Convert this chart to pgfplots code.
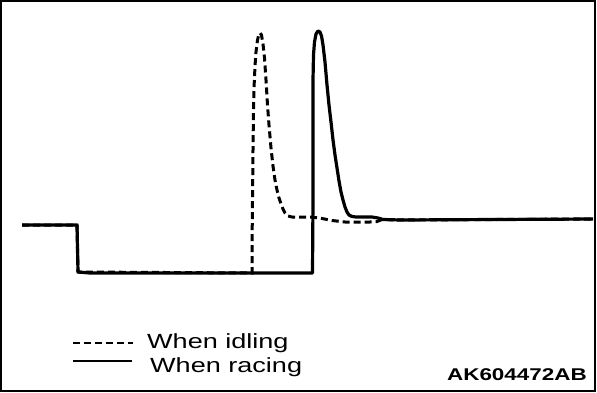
\documentclass[border=0pt]{standalone}
\usepackage{pgfplots}
\pgfplotsset{compat=1.18}
\usepackage{fontspec}
\setmainfont{Liberation Sans}
\newfontfamily\wide[FakeStretch=1.32]{Liberation Sans}
\begin{document}
\begin{tikzpicture}
\begin{axis}[
  scale only axis, width=597pt, height=393pt,
  xmin=0, xmax=597, ymin=0, ymax=393, y dir=reverse,
  hide axis, clip=false]
% When idling (dashed)
\addplot[black, line width=3pt, dash pattern=on 7pt off 4pt] coordinates {
(22,225)(77,225)(78,272)(252,273)(252,250)(253,150)(253.5,110)(254,88)(255,66)(256,52)(257.5,40)(259,34)(260,33)(261.5,35)(263,44)(264.5,58)(266,80)(267.5,105)(269,125)(271,148)(273,166)(275,180)(277,190)(279,198)(281,204)(283,209)(285,213)(288,216)(292,217)(312,217)(322,218.5)(332,220.5)(345,222)(370,222)(377,221.5)(382,219.5)(400,220)(593,219)};
% When racing (solid)
\addplot[black, line width=3.2pt, line join=round] coordinates {
(22,225)(77,225)(78,272)(90,273)(200,273)(312.5,273)(313,200)(313,80)(313.5,55)(314.5,42)(316,34)(318,31)(320,32)(321.5,36)(323,45)(325,62)(327,85)(329,105)(331,122)(333,140)(335,155)(337,168)(339,181)(341,192)(343,200)(345,207)(347,212)(349,215)(352,216.5)(356,217)(372,217)(378,218)(383,219.5)(400,220)(593,219)};
\draw[black, line width=2.2pt] (axis cs:1,1) rectangle (axis cs:595,391);
\draw[black, line width=2.6pt, dash pattern=on 7pt off 4pt] (axis cs:73,343) -- (axis cs:133,343);
\draw[black, line width=1.6pt] (axis cs:73,361) -- (axis cs:132,361);
\node[anchor=base west, inner sep=0pt, font=\wide\fontsize{20.5}{24}\selectfont] at (axis cs:147,348) {When idling};
\node[anchor=base west, inner sep=0pt, font=\wide\fontsize{20.5}{24}\selectfont] at (axis cs:150,372) {When racing};
\node[anchor=base east, inner sep=0pt, font=\wide\bfseries\fontsize{17}{20}\selectfont] at (axis cs:587,380) {AK604472AB};
\end{axis}
\pgfresetboundingbox
\useasboundingbox (current axis.south west) rectangle (current axis.north east);
\end{tikzpicture}
\end{document}
